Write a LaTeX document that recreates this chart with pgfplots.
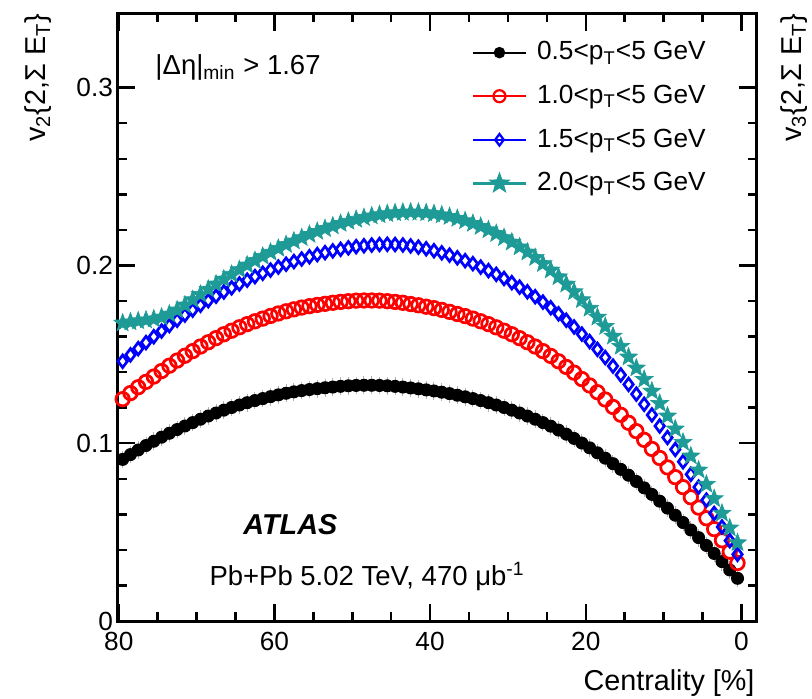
\documentclass[border=0pt]{standalone}
\usepackage{fontspec}
\setmainfont{Liberation Sans}
\usepackage{pgfplots}
\usepackage{pgfplotstable}
\pgfplotsset{compat=1.18}
\usetikzlibrary{plotmarks}

\definecolor{atlasteal}{RGB}{30,155,150}
\definecolor{atlasred}{RGB}{255,0,0}
\definecolor{atlasblue}{RGB}{0,0,255}

\pgfdeclareplotmark{fstar}{%
 \pgfpathmoveto{\pgfpointpolar{90}{\pgfplotmarksize}}%
 \pgfpathlineto{\pgfpointpolar{126}{0.42\pgfplotmarksize}}%
 \pgfpathlineto{\pgfpointpolar{162}{\pgfplotmarksize}}%
 \pgfpathlineto{\pgfpointpolar{198}{0.42\pgfplotmarksize}}%
 \pgfpathlineto{\pgfpointpolar{234}{\pgfplotmarksize}}%
 \pgfpathlineto{\pgfpointpolar{270}{0.42\pgfplotmarksize}}%
 \pgfpathlineto{\pgfpointpolar{306}{\pgfplotmarksize}}%
 \pgfpathlineto{\pgfpointpolar{342}{0.42\pgfplotmarksize}}%
 \pgfpathlineto{\pgfpointpolar{18}{\pgfplotmarksize}}%
 \pgfpathlineto{\pgfpointpolar{54}{0.42\pgfplotmarksize}}%
 \pgfpathclose
 \pgfusepathqfillstroke
}

\pgfplotstableread{
c v
0.5 0.0240
1.5 0.0287
2.5 0.0334
3.5 0.0380
4.5 0.0425
5.5 0.0469
6.5 0.0512
7.5 0.0554
8.5 0.0595
9.5 0.0635
10.5 0.0674
11.5 0.0712
12.5 0.0749
13.5 0.0785
14.5 0.0820
15.5 0.0853
16.5 0.0885
17.5 0.0916
18.5 0.0946
19.5 0.0974
20.5 0.1001
21.5 0.1027
22.5 0.1051
23.5 0.1074
24.5 0.1096
25.5 0.1116
26.5 0.1135
27.5 0.1153
28.5 0.1170
29.5 0.1186
30.5 0.1201
31.5 0.1215
32.5 0.1228
33.5 0.1240
34.5 0.1251
35.5 0.1261
36.5 0.1270
37.5 0.1279
38.5 0.1287
39.5 0.1294
40.5 0.1300
41.5 0.1306
42.5 0.1311
43.5 0.1316
44.5 0.1320
45.5 0.1323
46.5 0.1325
47.5 0.1326
48.5 0.1326
49.5 0.1325
50.5 0.1323
51.5 0.1320
52.5 0.1316
53.5 0.1312
54.5 0.1307
55.5 0.1302
56.5 0.1296
57.5 0.1289
58.5 0.1281
59.5 0.1272
60.5 0.1262
61.5 0.1251
62.5 0.1240
63.5 0.1228
64.5 0.1215
65.5 0.1201
66.5 0.1186
67.5 0.1170
68.5 0.1153
69.5 0.1135
70.5 0.1116
71.5 0.1097
72.5 0.1077
73.5 0.1056
74.5 0.1034
75.5 0.1011
76.5 0.0987
77.5 0.0962
78.5 0.0936
79.5 0.0909
}\tblack

\pgfplotstableread{
c v
0.5 0.0326
1.5 0.0390
2.5 0.0454
3.5 0.0517
4.5 0.0578
5.5 0.0638
6.5 0.0696
7.5 0.0753
8.5 0.0809
9.5 0.0864
10.5 0.0917
11.5 0.0968
12.5 0.1019
13.5 0.1068
14.5 0.1115
15.5 0.1160
16.5 0.1204
17.5 0.1246
18.5 0.1287
19.5 0.1325
20.5 0.1361
21.5 0.1397
22.5 0.1429
23.5 0.1461
24.5 0.1491
25.5 0.1518
26.5 0.1544
27.5 0.1568
28.5 0.1591
29.5 0.1613
30.5 0.1633
31.5 0.1652
32.5 0.1670
33.5 0.1686
34.5 0.1701
35.5 0.1715
36.5 0.1727
37.5 0.1739
38.5 0.1750
39.5 0.1760
40.5 0.1768
41.5 0.1776
42.5 0.1783
43.5 0.1790
44.5 0.1795
45.5 0.1799
46.5 0.1802
47.5 0.1803
48.5 0.1803
49.5 0.1802
50.5 0.1799
51.5 0.1795
52.5 0.1790
53.5 0.1784
54.5 0.1778
55.5 0.1771
56.5 0.1763
57.5 0.1753
58.5 0.1742
59.5 0.1730
60.5 0.1716
61.5 0.1701
62.5 0.1686
63.5 0.1670
64.5 0.1652
65.5 0.1633
66.5 0.1613
67.5 0.1591
68.5 0.1568
69.5 0.1544
70.5 0.1518
71.5 0.1492
72.5 0.1465
73.5 0.1436
74.5 0.1406
75.5 0.1375
76.5 0.1345
77.5 0.1315
78.5 0.1282
79.5 0.1248
}\tred

\pgfplotstableread{
c v
0.5 0.0375
1.5 0.0452
2.5 0.0529
3.5 0.0605
4.5 0.0680
5.5 0.0753
6.5 0.0825
7.5 0.0896
8.5 0.0965
9.5 0.1032
10.5 0.1097
11.5 0.1159
12.5 0.1219
13.5 0.1276
14.5 0.1331
15.5 0.1384
16.5 0.1434
17.5 0.1482
18.5 0.1528
19.5 0.1572
20.5 0.1614
21.5 0.1654
22.5 0.1692
23.5 0.1728
24.5 0.1762
25.5 0.1794
26.5 0.1824
27.5 0.1852
28.5 0.1878
29.5 0.1903
30.5 0.1927
31.5 0.1950
32.5 0.1971
33.5 0.1991
34.5 0.2010
35.5 0.2027
36.5 0.2043
37.5 0.2058
38.5 0.2071
39.5 0.2083
40.5 0.2094
41.5 0.2103
42.5 0.2110
43.5 0.2115
44.5 0.2118
45.5 0.2119
46.5 0.2118
47.5 0.2115
48.5 0.2111
49.5 0.2106
50.5 0.2099
51.5 0.2091
52.5 0.2082
53.5 0.2072
54.5 0.2061
55.5 0.2049
56.5 0.2036
57.5 0.2022
58.5 0.2007
59.5 0.1991
60.5 0.1974
61.5 0.1956
62.5 0.1937
63.5 0.1917
64.5 0.1896
65.5 0.1874
66.5 0.1851
67.5 0.1827
68.5 0.1802
69.5 0.1776
70.5 0.1749
71.5 0.1721
72.5 0.1692
73.5 0.1662
74.5 0.1631
75.5 0.1599
76.5 0.1566
77.5 0.1532
78.5 0.1497
79.5 0.1461
}\tblue

\pgfplotstableread{
c v
0.5 0.0440
1.5 0.0523
2.5 0.0606
3.5 0.0688
4.5 0.0769
5.5 0.0849
6.5 0.0928
7.5 0.1005
8.5 0.1080
9.5 0.1153
10.5 0.1224
11.5 0.1293
12.5 0.1359
13.5 0.1423
14.5 0.1485
15.5 0.1545
16.5 0.1602
17.5 0.1657
18.5 0.1709
19.5 0.1759
20.5 0.1807
21.5 0.1852
22.5 0.1895
23.5 0.1936
24.5 0.1974
25.5 0.2010
26.5 0.2044
27.5 0.2075
28.5 0.2104
29.5 0.2131
30.5 0.2156
31.5 0.2179
32.5 0.2200
33.5 0.2219
34.5 0.2236
35.5 0.2251
36.5 0.2264
37.5 0.2275
38.5 0.2284
39.5 0.2291
40.5 0.2296
41.5 0.2299
42.5 0.2300
43.5 0.2299
44.5 0.2296
45.5 0.2291
46.5 0.2285
47.5 0.2278
48.5 0.2269
49.5 0.2259
50.5 0.2248
51.5 0.2236
52.5 0.2222
53.5 0.2207
54.5 0.2191
55.5 0.2174
56.5 0.2156
57.5 0.2137
58.5 0.2117
59.5 0.2096
60.5 0.2074
61.5 0.2051
62.5 0.2027
63.5 0.2002
64.5 0.1976
65.5 0.1950
66.5 0.1923
67.5 0.1895
68.5 0.1866
69.5 0.1837
70.5 0.1807
71.5 0.1777
72.5 0.1749
73.5 0.1726
74.5 0.1709
75.5 0.1699
76.5 0.1693
77.5 0.1688
78.5 0.1682
79.5 0.1676
}\tteal

\begin{document}
\begin{tikzpicture}
\useasboundingbox (-47.2pt,-30.8pt) rectangle (277.6pt,248.4pt);
\begin{axis}[
  at={(0pt,0pt)}, anchor=south west,
  scale only axis, width=255.6pt, height=243.2pt,
  x dir=reverse, xmin=-2.0, xmax=80.1,
  ymin=0, ymax=0.342,
  xtick={0,20,40,60,80}, minor x tick num=3,
  ytick={0,0.1,0.2,0.3}, yticklabels={0,0.1,0.2,0.3}, minor y tick num=4,
  tick align=inside, major tick length=7pt, minor tick length=3.5pt,
  axis line style={line width=1.2pt},
  every tick/.style={line width=1pt, black},
  /pgf/number format/assume math mode=true,
  ticklabel style={font=\fontsize{10.5}{12}\selectfont},
  xticklabel style={yshift=-1pt},
  yticklabel style={xshift=1.5pt},
  legend style={draw=none, fill=none, at={(axis description cs:0.553,0.962)}, anchor=north west,
    font=\fontsize{10.5}{12}\selectfont, row sep=4.6pt, inner sep=0pt,
    /tikz/every odd column/.append style={column sep=2pt}},
  legend cell align=left,
  legend image code/.code={\draw[#1,mark repeat=2,mark phase=2] plot coordinates {(0pt,0pt) (10.6pt,0pt) (21.2pt,0pt)};},
]
\addlegendimage{black, line width=0.8pt, mark=*, mark size=1.9pt}
\addlegendentry{0.5<p\textsubscript{T}<5 GeV}
\addlegendimage{atlasred, line width=0.9pt, mark=o, mark size=2.4pt}
\addlegendentry{1.0<p\textsubscript{T}<5 GeV}
\addlegendimage{atlasblue, line width=0.9pt, mark=diamond, mark size=2.3pt, mark options={fill=atlasblue!10}}
\addlegendentry{1.5<p\textsubscript{T}<5 GeV}
\addlegendimage{atlasteal, line width=0.9pt, mark=fstar, mark size=3.4pt}
\addlegendentry{2.0<p\textsubscript{T}<5 GeV}

\addplot[forget plot, only marks, black, mark=*, mark size=2.4pt,
  error bars/y dir=both, error bars/y fixed=0.005,
  error bars/error mark=none, error bars/error bar style={gray!60, line width=0.4pt}] table[x=c,y=v] {\tblack};
\addplot[forget plot, only marks, atlasred, mark=o, mark size=2.7pt, line width=1.1pt] table[x=c,y=v] {\tred};
\addplot[forget plot, only marks, atlasblue, mark=diamond, mark size=2.5pt, line width=1.1pt, mark options={fill=atlasblue!10}] table[x=c,y=v] {\tblue};
\addplot[forget plot, only marks, atlasteal, mark=fstar, mark size=3.7pt, line width=0.3pt] table[x=c,y=v] {\tteal};
\end{axis}
\node[rotate=90, anchor=south east, inner sep=0pt, font=\fontsize{11.5}{13}\selectfont] at (-26.4pt,243.2pt) {v\textsubscript{2}\{2,Σ E\textsubscript{T}\}};
\node[rotate=90, anchor=north east, inner sep=0pt, font=\fontsize{11.5}{13}\selectfont] at (264.8pt,243.2pt) {v\textsubscript{3}\{2,Σ E\textsubscript{T}\}};
\node[anchor=base east, inner sep=0pt, font=\fontsize{11.5}{13}\selectfont] at (254.8pt,-27.6pt) {Centrality [\%]};
\node[anchor=base west, inner sep=0pt, font=\fontsize{11}{13}\selectfont] at (14.8pt,218.4pt) {|Δη|\textsubscript{min} > 1.67};
\node[anchor=base west, inner sep=0pt, font=\fontsize{11.5}{13}\selectfont\bfseries\itshape] at (50pt,34.8pt) {ATLAS};
\node[anchor=base west, inner sep=0pt, font=\fontsize{11}{13}\selectfont] at (36.4pt,14.4pt) {Pb+Pb 5.02 TeV, 470 μb\textsuperscript{-1}};
\end{tikzpicture}
\end{document}
